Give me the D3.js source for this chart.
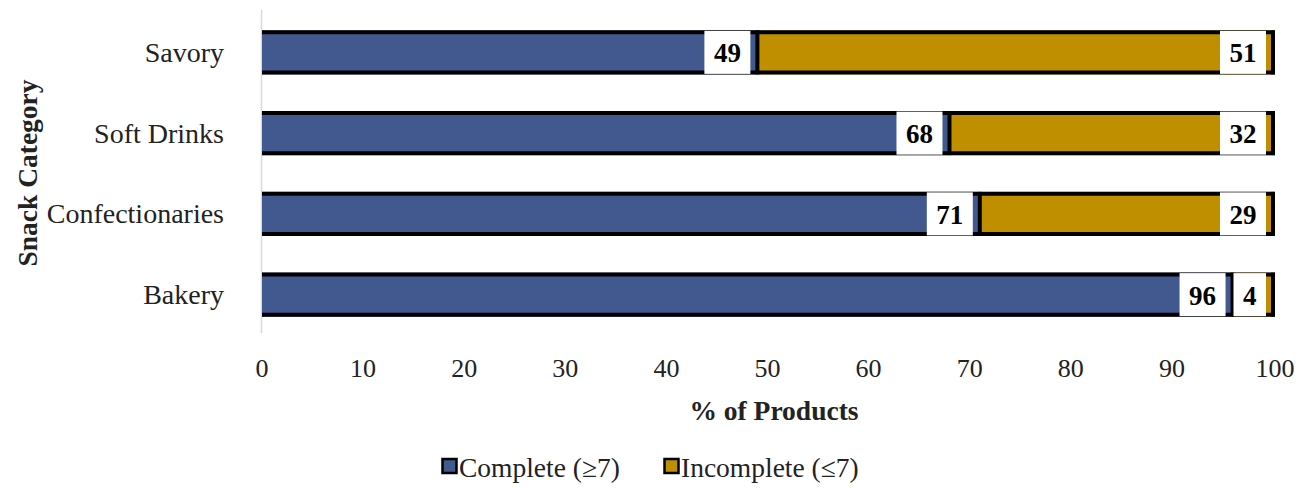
<!DOCTYPE html>
<html>
<head>
<meta charset="utf-8">
<script src="https://cdn.jsdelivr.net/npm/d3@7"></script>
<style>
  html, body { margin: 0; padding: 0; background: #fff; }
  svg { display: block; font-family: "Liberation Serif", "Times New Roman", serif; }
</style>
</head>
<body>
<svg id="chart" width="1308" height="504"></svg>
<script>
// Snack categories, top to bottom
const categories = ["Savory", "Soft Drinks", "Confectionaries", "Bakery"];
// Share of products (%) per category
const complete   = [49, 68, 71, 96];
const incomplete = [51, 32, 29, 4];
const xTicks = [0, 10, 20, 30, 40, 50, 60, 70, 80, 90, 100];
const seriesNames = ["Complete (\u22657)", "Incomplete (\u22647)"];
const seriesColors = ["#41598f", "#bf8f00"];

const svg = d3.select("#chart");
const plotLeft = 262, plotRight = 1273, plotTop = 12, plotBottom = 335;

const x = d3.scaleLinear().domain([0, 100]).range([plotLeft, plotRight]);
const y = d3.scaleBand().domain(categories).range([plotTop, plotBottom]).paddingInner(0.455).paddingOuter(0.2275);

// vertical category axis line
svg.append("line")
  .attr("x1", plotLeft - 0.5).attr("x2", plotLeft - 0.5)
  .attr("y1", 10).attr("y2", 333)
  .attr("stroke", "#d9d9d9").attr("stroke-width", 1.5);

// stacked segments
const rows = categories.map((c, i) => ({
  cat: c,
  segs: [
    { s: 0, v: complete[i], x0: 0, x1: complete[i] },
    { s: 1, v: incomplete[i], x0: complete[i], x1: complete[i] + incomplete[i] }
  ]
}));

const bw = 4;
const g = svg.append("g");
rows.forEach(r => {
  const y0 = y(r.cat), h = y.bandwidth();
  r.segs.forEach(sg => {
    g.append("rect")
      .attr("x", x(sg.x0)).attr("y", y0)
      .attr("width", x(sg.x1) - x(sg.x0)).attr("height", h)
      .attr("fill", seriesColors[sg.s]);
  });
  // black outline: top, bottom and segment ends
  const xEnd = x(r.segs[1].x1);
  g.append("line").attr("x1", x(0)).attr("x2", xEnd + bw / 2)
    .attr("y1", y0 + bw / 2).attr("y2", y0 + bw / 2)
    .attr("stroke", "#000").attr("stroke-width", bw);
  g.append("line").attr("x1", x(0)).attr("x2", xEnd + bw / 2)
    .attr("y1", y0 + h - bw / 2).attr("y2", y0 + h - bw / 2)
    .attr("stroke", "#000").attr("stroke-width", bw);
  r.segs.forEach(sg => {
    g.append("line").attr("x1", x(sg.x1)).attr("x2", x(sg.x1))
      .attr("y1", y0).attr("y2", y0 + h)
      .attr("stroke", "#000").attr("stroke-width", bw);
  });
  // value labels in white boxes at the inside end of each segment
  r.segs.forEach(sg => {
    const lg = g.append("g");
    const t = lg.append("text")
      .attr("text-anchor", "middle")
      .attr("dominant-baseline", "central")
      .attr("font-size", 27).attr("font-weight", "bold")
      .attr("fill", "#000")
      .text(sg.v);
    const tw = t.node().getComputedTextLength();
    const boxW = tw + 19;
    const bx = x(sg.x1) - 7 - boxW;
    lg.insert("rect", "text")
      .attr("x", bx).attr("y", y0 + 0.5)
      .attr("width", boxW).attr("height", h - 1)
      .attr("fill", "#fff");
    t.attr("x", bx + boxW / 2).attr("y", y0 + h / 2 + 1);
  });
});

// category labels
svg.append("g").selectAll("text").data(categories).join("text")
  .attr("x", 224)
  .attr("y", d => y(d) + y.bandwidth() / 2)
  .attr("text-anchor", "end")
  .attr("dominant-baseline", "central")
  .attr("font-size", 28)
  .attr("fill", "#222")
  .text(d => d);

// value axis tick labels
svg.append("g").selectAll("text").data(xTicks).join("text")
  .attr("x", d => x(d) + (d === 100 ? 2 : 0))
  .attr("y", 368)
  .attr("text-anchor", "middle")
  .attr("dominant-baseline", "central")
  .attr("font-size", 26)
  .attr("fill", "#222")
  .text(d => d);

// axis titles
svg.append("text")
  .attr("x", 774).attr("y", 410)
  .attr("text-anchor", "middle").attr("dominant-baseline", "central")
  .attr("font-size", 27.5).attr("font-weight", "bold").attr("fill", "#222")
  .text("% of Products");

svg.append("text")
  .attr("transform", "translate(27,173) rotate(-90)")
  .attr("text-anchor", "middle").attr("dominant-baseline", "central")
  .attr("font-size", 27.5).attr("font-weight", "bold").attr("fill", "#222")
  .text("Snack Category");

// legend
const legend = svg.append("g");
const legendX = [441, 663];
seriesNames.forEach((name, i) => {
  const lg = legend.append("g").attr("transform", `translate(${legendX[i]},466)`);
  lg.append("rect").attr("x", 1.5).attr("y", -7).attr("width", 14).attr("height", 14)
    .attr("fill", seriesColors[i]).attr("stroke", "#000").attr("stroke-width", 2.5);
  lg.append("text").attr("x", 18).attr("y", 1)
    .attr("dominant-baseline", "central")
    .attr("font-size", 27.5).attr("fill", "#222")
    .text(name);
});
</script>
</body>
</html>
